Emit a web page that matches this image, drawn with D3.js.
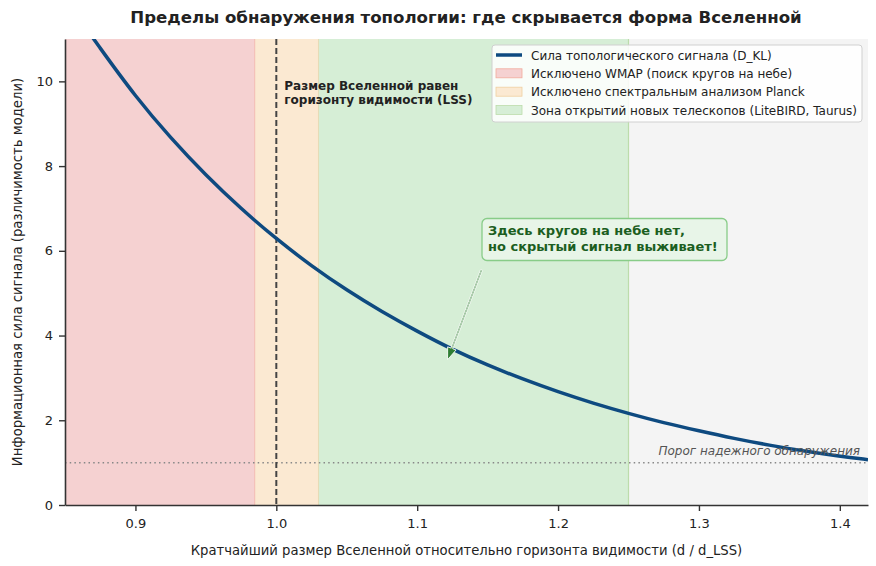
<!DOCTYPE html>
<html><head><meta charset="utf-8">
<script src="https://cdn.jsdelivr.net/npm/d3@7"></script>
<style>body{margin:0;background:#fff;} svg{display:block;font-family:"DejaVu Sans",sans-serif;}</style>
</head><body>
<svg id="c" width="876" height="566"></svg>
<script>
// ---- data ----
const sizeRatio = [0.85,0.875,0.9,0.925,0.95,0.975,1.0,1.025,1.05,1.075,1.1,1.125,1.15,1.175,1.2,1.225,1.25,1.275,1.3,1.325,1.35,1.375,1.4,1.42];
const signalStrength = [11.95,10.78,9.64,8.66,7.78,6.99,6.28,5.64,5.07,4.56,4.10,3.67,3.30,2.97,2.67,2.40,2.16,1.94,1.75,1.57,1.41,1.27,1.15,1.07];
const bandNames = ["Исключено WMAP (поиск кругов на небе)","Исключено спектральным анализом Planck","Зона открытий новых телескопов (LiteBIRD, Taurus)"];
const bandStart = [0.85, 0.985, 1.03];
const bandEnd = [0.985, 1.03, 1.25];
const xTicks = [0.9,1.0,1.1,1.2,1.3,1.4];
const yTicks = [0,2,4,6,8,10];
const threshold = 1.0;
const horizon = 1.0;
const arrowTarget = [1.123, 3.62];

const bandFill = ["#f5d1d1","#fbe9d2","#d6eed6"];
const bandEdge = ["#f2ab9c","#f0cfa0","#bcdcab"];

const svg = d3.select("#c");
const L=65,R=868,T=39,B=505;
const x = d3.scaleLinear().domain([0.85,1.42]).range([L,R]);
const y = d3.scaleLinear().domain([0,11]).range([B,T]);

svg.append("defs").append("clipPath").attr("id","clip")
  .append("rect").attr("x",L).attr("y",T).attr("width",R-L).attr("height",B-T);

// background
svg.append("rect").attr("x",L).attr("y",T).attr("width",R-L).attr("height",B-T).attr("fill","#f4f4f4");

// bands
const g = svg.append("g").attr("clip-path","url(#clip)");
bandNames.forEach((n,i)=>{
  g.append("rect").attr("x",x(bandStart[i])).attr("y",T)
   .attr("width",x(bandEnd[i])-x(bandStart[i])).attr("height",B-T)
   .attr("fill",bandFill[i]);
  g.append("line").attr("x1",x(bandEnd[i])).attr("x2",x(bandEnd[i])).attr("y1",T).attr("y2",B)
   .attr("stroke",bandEdge[i]).attr("stroke-width",1.2);
});

// threshold
g.append("line").attr("x1",L).attr("x2",R).attr("y1",y(threshold)).attr("y2",y(threshold))
  .attr("stroke","#888").attr("stroke-width",1.5).attr("stroke-dasharray","1.5,3.2");
svg.append("text").attr("x",860).attr("y",y(threshold)-8).attr("text-anchor","end")
  .attr("font-size",12).attr("font-style","italic").attr("fill","#555").text("Порог надежного обнаружения");

// horizon line
g.append("line").attr("x1",x(horizon)).attr("x2",x(horizon)).attr("y1",T).attr("y2",B)
  .attr("stroke","#444").attr("stroke-width",2).attr("stroke-dasharray","6,3");
const ht = svg.append("text").attr("font-size",12).attr("font-weight","bold").attr("fill","#222");
ht.append("tspan").attr("x",x(horizon)+8).attr("y",90).text("Размер Вселенной равен");
ht.append("tspan").attr("x",x(horizon)+8).attr("y",104).text("горизонту видимости (LSS)");

// curve
const pts = sizeRatio.map((v,i)=>[v,signalStrength[i]]);
g.append("path").datum(pts)
  .attr("d",d3.line().x(d=>x(d[0])).y(d=>y(d[1])).curve(d3.curveBasis))
  .attr("fill","none").attr("stroke","#0e4a80").attr("stroke-width",3.5);

// axes
const xa = svg.append("g").attr("transform",`translate(0,${B})`)
  .call(d3.axisBottom(x).tickValues(xTicks).tickFormat(d3.format(".1f")).tickSize(6).tickPadding(8).tickSizeOuter(0));
const ya = svg.append("g").attr("transform",`translate(${L},0)`)
  .call(d3.axisLeft(y).tickValues(yTicks).tickFormat(d3.format("d")).tickSize(6).tickPadding(6).tickSizeOuter(0));
[xa,ya].forEach(a=>{
  a.select(".domain").attr("stroke","#333").attr("stroke-width",1.6);
  a.selectAll(".tick line").attr("stroke","#333").attr("stroke-width",1.4);
  a.selectAll(".tick text").attr("font-size",13).attr("fill","#222").attr("font-family","DejaVu Sans");
});

// axis labels
svg.append("text").attr("x",(L+R)/2).attr("y",555).attr("text-anchor","middle")
  .attr("font-size",13.2).attr("fill","#222").text("Кратчайший размер Вселенной относительно горизонта видимости (d / d_LSS)");
svg.append("text").attr("transform",`translate(22,${(T+B)/2}) rotate(-90)`).attr("text-anchor","middle")
  .attr("font-size",13.2).attr("fill","#222").text("Информационная сила сигнала (различимость модели)");

// title
svg.append("text").attr("x",466).attr("y",23).attr("text-anchor","middle")
  .attr("font-size",16.6).attr("font-weight","bold").attr("fill","#222")
  .text("Пределы обнаружения топологии: где скрывается форма Вселенной");

// annotation arrow
const tx=481.5, ty=270, hx=x(arrowTarget[0])-2, hy=y(arrowTarget[1])+8;
const ang=Math.atan2(hy-ty,hx-tx), len=Math.hypot(hx-tx,hy-ty);
const ag = svg.append("g").attr("transform",`translate(${tx},${ty}) rotate(${ang*180/Math.PI})`);
ag.append("path").attr("d",`M0,-1 L${len-12},-1 L${len-12},-4.5 L${len},0 L${len-12},4.5 L${len-12},1 L0,1 Z`)
  .attr("fill","#2e7d32").attr("stroke","#fff").attr("stroke-width",0.8);
ag.append("rect").attr("x",0).attr("y",-0.6).attr("width",len-12).attr("height",1.2).attr("fill","#b8d4b8");

// annotation box
svg.append("rect").attr("x",482).attr("y",218.5).attr("width",245).attr("height",42).attr("rx",5)
  .attr("fill","#e8f5e8").attr("stroke","#88cc88").attr("stroke-width",1.3);
const at = svg.append("text").attr("font-size",13).attr("font-weight","bold").attr("fill","#1b5e20");
at.append("tspan").attr("x",488).attr("y",235).text("Здесь кругов на небе нет,");
at.append("tspan").attr("x",488).attr("y",251).text("но скрытый сигнал выживает!");

// legend
const lg = svg.append("g");
lg.append("rect").attr("x",492).attr("y",45).attr("width",370).attr("height",77).attr("rx",3)
  .attr("fill","#fff").attr("fill-opacity",0.85).attr("stroke","#d0d0d0");
const rowY=[55,73.3,91.7,110];
lg.append("line").attr("x1",496).attr("x2",522).attr("y1",rowY[0]).attr("y2",rowY[0])
  .attr("stroke","#0e4a80").attr("stroke-width",3.5);
lg.append("text").attr("x",531).attr("y",rowY[0]+4.5).attr("font-size",12).attr("fill","#222").text("Сила топологического сигнала (D_KL)");
bandNames.forEach((n,i)=>{
  lg.append("rect").attr("x",496).attr("y",rowY[i+1]-4.5).attr("width",26).attr("height",9)
    .attr("fill",bandFill[i]).attr("stroke",bandEdge[i]).attr("stroke-width",0.8);
  lg.append("text").attr("x",531).attr("y",rowY[i+1]+4.5).attr("font-size",12).attr("fill","#222").text(n);
});
</script>
</body></html>
